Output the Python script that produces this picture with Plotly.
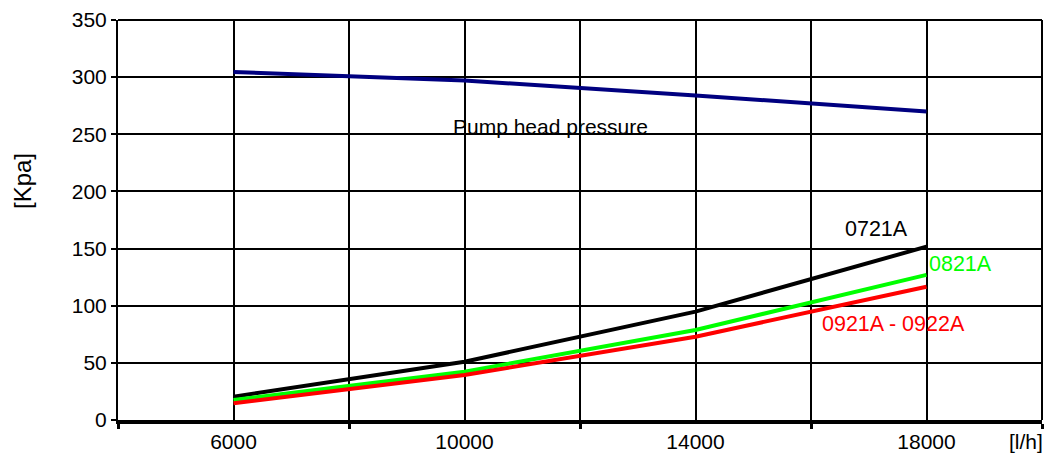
import plotly.graph_objects as go

# Flow rate [l/h]
flow = [6000, 10000, 14000, 18000]

# Pressure values [Kpa]
pump_head = [304.5, 297, 284, 270]
p_0721a = [20.4, 51, 94.8, 151.7]
p_0821a = [17.5, 42.3, 78.8, 127]
p_0921a = [14.6, 39.4, 72.9, 116.6]

x_ticks = [6000, 10000, 14000, 18000]
x_tick_text = ["6000", "10000", "14000", "18000"]
x_minor = [4000, 8000, 12000, 16000, 20000]
y_ticks = [0, 50, 100, 150, 200, 250, 300, 350]

FONT = "Liberation Sans"
FS = 21

fig = go.Figure()
series = [
    (pump_head, "#000080", "Pump head pressure"),
    (p_0721a, "#000000", "0721A"),
    (p_0821a, "#00ff00", "0821A"),
    (p_0921a, "#ff0000", "0921A - 0922A"),
]
for vals, color, name in series:
    fig.add_trace(go.Scatter(x=flow, y=vals, mode="lines", name=name,
                             line=dict(color=color, width=4)))

fig.update_layout(
    width=1048, height=469,
    margin=dict(l=118, r=6, t=20, b=49),
    paper_bgcolor="white", plot_bgcolor="white",
    showlegend=False,
    font=dict(family=FONT, size=FS, color="black"),
)

fig.update_xaxes(
    range=[4000, 20000],
    tickvals=x_ticks, ticktext=x_tick_text, ticks="",
    showgrid=True, gridcolor="black", gridwidth=2,
    minor=dict(tickvals=x_minor, ticks="outside", ticklen=5, tickwidth=3,
               tickcolor="black", showgrid=True, gridcolor="black", gridwidth=2),
    showline=True, linecolor="black", linewidth=4,
    zeroline=False, tickfont=dict(family=FONT, size=FS), ticklabelstandoff=0,
)
fig.update_yaxes(
    range=[0, 350], tickvals=y_ticks,
    ticks="outside", ticklen=5, tickwidth=2, tickcolor="black",
    showgrid=True, gridcolor="black", gridwidth=2,
    showline=True, linecolor="black", linewidth=2,
    zeroline=False, tickfont=dict(family=FONT, size=FS),
)

# Top and right frame edges
fig.add_shape(type="line", xref="paper", yref="paper", x0=0, x1=1, y0=1, y1=1,
              line=dict(color="black", width=2))
fig.add_shape(type="line", xref="paper", yref="paper", x0=1, x1=1, y0=0, y1=1,
              line=dict(color="black", width=2))

annotations = [
    dict(text="[Kpa]", x=22, y=181, textangle=-90, color="black", size=24),
    dict(text="[l/h]", x=1026, y=441, color="black", size=FS),
    dict(text="Pump head pressure", x=550, y=126, color="black", size=FS),
    dict(text="0721A", x=876, y=229, color="black", size=21.5),
    dict(text="0821A", x=960, y=264, color="#00ff00", size=21.5),
    dict(text="0921A - 0922A", x=893, y=324, color="#ff0000", size=21.5),
]
for a in annotations:
    fig.add_annotation(
        text=a["text"], xref="paper", yref="paper",
        x=(a["x"] - 118) / (1042 - 118), y=(420 - a["y"]) / 400,
        xanchor="center", yanchor="middle", showarrow=False,
        textangle=a.get("textangle", 0),
        font=dict(family=FONT, size=a["size"], color=a["color"]),
    )

fig.write_html("out.html")
